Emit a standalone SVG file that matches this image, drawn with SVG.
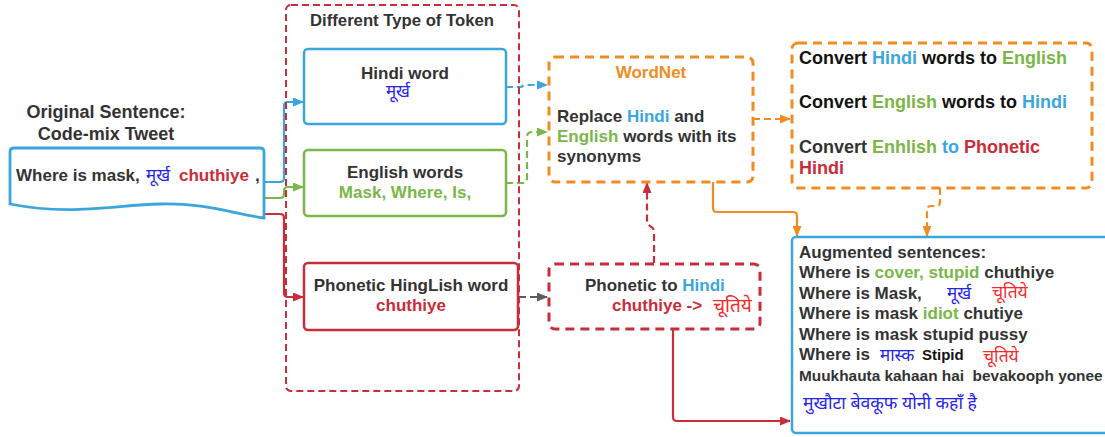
<svg xmlns="http://www.w3.org/2000/svg" width="1105" height="437" viewBox="0 0 1105 437">
<style>
text{font-family:"Liberation Sans",Arial,sans-serif;font-weight:bold;fill:#333333}
.hi{font-family:"Noto Sans Devanagari","Lohit Devanagari","Noto Sans","Liberation Sans",sans-serif;font-weight:normal}
.b{fill:#3aa6dd}.g{fill:#7ab648}.r{fill:#c92d39}.o{fill:#ef8d22}.k{fill:#111111}
.hb{fill:#2323f0}.hr{fill:#f52a2a}
.box{fill:#ffffff;stroke-width:2.5}
.c{fill:none;stroke-width:2.2;stroke-linejoin:round}
</style>
<defs>
<marker id="ab" markerUnits="userSpaceOnUse" markerWidth="11" markerHeight="9" refX="10" refY="4.5" orient="auto"><path d="M0,0 L11,4.5 L0,9 z" fill="#3aa6dd"/></marker>
<marker id="ag" markerUnits="userSpaceOnUse" markerWidth="11" markerHeight="9" refX="10" refY="4.5" orient="auto"><path d="M0,0 L11,4.5 L0,9 z" fill="#7ab648"/></marker>
<marker id="ar" markerUnits="userSpaceOnUse" markerWidth="11" markerHeight="9" refX="10" refY="4.5" orient="auto"><path d="M0,0 L11,4.5 L0,9 z" fill="#c92d39"/></marker>
<marker id="ao" markerUnits="userSpaceOnUse" markerWidth="11" markerHeight="9" refX="10" refY="4.5" orient="auto"><path d="M0,0 L11,4.5 L0,9 z" fill="#ef8d22"/></marker>
<marker id="ak" markerUnits="userSpaceOnUse" markerWidth="11" markerHeight="9" refX="10" refY="4.5" orient="auto"><path d="M0,0 L11,4.5 L0,9 z" fill="#5e5e5e"/></marker>
</defs>
<rect width="1105" height="437" fill="#ffffff"/>

<g id="connectors">
<path class="c" stroke="#3aa6dd" d="M264,182 H280 Q284,182 284,178 V106 Q284,102 288,102 H303" marker-end="url(#ab)"/>
<path class="c" stroke="#7ab648" d="M264,198 H280 Q284,198 284,194 V191 Q284,187 288,187 H303" marker-end="url(#ag)"/>
<path class="c" stroke="#c92d39" d="M264,214 H280 Q284,214 284,218 V293 Q284,297 288,297 H303" marker-end="url(#ar)"/>
<path class="c" stroke="#3aa6dd" stroke-dasharray="7,4" d="M506,87 H520 Q522,87 524,85 H547" marker-end="url(#ab)"/>
<path class="c" stroke="#7ab648" stroke-dasharray="7,4" d="M506,183 H522 Q527,183 527,178 V137 Q527,132 532,132 H547" marker-end="url(#ag)"/>
<path class="c" stroke="#5e5e5e" stroke-dasharray="7,4" d="M519,297 H547" marker-end="url(#ak)"/>
<path class="c" stroke="#ef8d22" stroke-dasharray="7,4" d="M753,119 H790" marker-end="url(#ao)"/>
<path class="c" stroke="#ef8d22" d="M713,182 V208 Q713,212 717,212 H793 Q797,212 797,216 V236" marker-end="url(#ao)"/>
<path class="c" stroke="#ef8d22" stroke-dasharray="7,4" d="M940,188 V202 Q940,206 936,206 H931 Q927,206 927,210 V236" marker-end="url(#ao)"/>
<path class="c" stroke="#c92d39" stroke-dasharray="7,4" d="M654,263 V232 Q654,228 650,226 Q647,224 647,220 V183" marker-end="url(#ar)"/>
<path class="c" stroke="#c92d39" d="M673,329 V417 Q673,421 677,421 H790" marker-end="url(#ar)"/>
</g>

<g id="original">
<text x="106" y="118" font-size="18" text-anchor="middle">Original Sentence:</text>
<text x="106" y="140" font-size="18" text-anchor="middle">Code-mix Tweet</text>
<path d="M14,148 H260 Q264,148 264,152 V218 C230,213 205,203 160,204 C115,205 70,216 10,204 V152 Q10,148 14,148 Z" fill="#ffffff" stroke="#3aa6dd" stroke-width="2.8"/>
<text x="16" y="181" font-size="17">Where is mask,</text>
<text class="hi hb" x="146" y="181" font-size="17">मूर्ख</text>
<text class="r" x="179" y="181" font-size="17">chuthiye</text>
<text x="255" y="181" font-size="17">,</text>
</g>

<g id="token-group">
<rect x="286" y="5" width="233" height="386" rx="5" fill="none" stroke="#c92d39" stroke-width="2" stroke-dasharray="7,4"/>
<text x="402" y="26" font-size="16.7" text-anchor="middle">Different Type of Token</text>
</g>

<g id="hindi-word">
<rect class="box" x="304" y="49" width="202" height="75" rx="4" stroke="#3aa6dd"/>
<text x="405" y="79" font-size="17" text-anchor="middle">Hindi word</text>
<text class="hi hb" x="398" y="97" font-size="17" text-anchor="middle">मूर्ख</text>
</g>

<g id="english-words">
<rect class="box" x="304" y="150" width="202" height="66" rx="4" stroke="#7ab648"/>
<text x="405" y="178" font-size="17" text-anchor="middle">English words</text>
<text class="g" x="405" y="198" font-size="17" text-anchor="middle">Mask, Where, Is,</text>
</g>

<g id="phonetic-word">
<rect class="box" x="304" y="263" width="214" height="67" rx="4" stroke="#c92d39" stroke-width="3"/>
<text x="411" y="291" font-size="17" text-anchor="middle">Phonetic HingLish word</text>
<text class="r" x="411" y="311" font-size="17" text-anchor="middle">chuthiye</text>
</g>

<g id="wordnet">
<rect x="549" y="57" width="204" height="125" rx="6" fill="#ffffff" stroke="#ef8d22" stroke-width="3" stroke-dasharray="9,6"/>
<text class="o" x="651" y="78" font-size="17" text-anchor="middle">WordNet</text>
<text x="557" y="122" font-size="17">Replace <tspan class="b">Hindi</tspan> and</text>
<text x="557" y="142" font-size="17"><tspan class="g">English</tspan> words with its</text>
<text x="557" y="162" font-size="17">synonyms</text>
</g>

<g id="convert">
<rect x="792" y="43" width="300" height="145" rx="6" fill="#ffffff" stroke="#ef8d22" stroke-width="3" stroke-dasharray="9,6"/>
<text class="k" x="799" y="64" font-size="18">Convert <tspan class="b">Hindi</tspan> words to <tspan class="g">English</tspan></text>
<text class="k" x="799" y="108" font-size="18">Convert <tspan class="g">English</tspan> words to <tspan class="b">Hindi</tspan></text>
<text x="799" y="153" font-size="18">Convert <tspan class="g">Enhlish</tspan> <tspan class="b">to</tspan> <tspan class="r">Phonetic</tspan></text>
<text class="r" x="799" y="174" font-size="18">Hindi</text>
</g>

<g id="phonetic-to-hindi">
<rect x="549" y="264" width="211" height="65" rx="6" fill="#ffffff" stroke="#c92d39" stroke-width="3" stroke-dasharray="9,6"/>
<text x="585" y="291" font-size="17">Phonetic to <tspan class="b">Hindi</tspan></text>
<text class="r" x="612" y="311" font-size="17">chuthiye -&gt;</text>
<text class="hi hr" x="713" y="312" font-size="19">चूतिये</text>
</g>

<g id="augmented">
<rect x="792" y="237" width="320" height="196" rx="4" fill="#ffffff" stroke="#3aa6dd" stroke-width="2.5"/>
<text x="799" y="258" font-size="17">Augmented sentences:</text>
<text x="799" y="278" font-size="17">Where is <tspan class="g">cover, stupid</tspan> chuthiye</text>
<text x="799" y="299" font-size="17">Where is Mask,</text>
<text class="hi hb" x="947" y="299" font-size="17">मूर्ख</text>
<text class="hi hr" x="992" y="298" font-size="17.5">चूतिये</text>
<text x="799" y="319" font-size="17">Where is mask <tspan class="g">idiot</tspan> chutiye</text>
<text x="799" y="340" font-size="17">Where is mask stupid pussy</text>
<text x="799" y="360" font-size="17">Where is</text>
<text class="hi hb" x="880" y="361" font-size="17">मास्क</text>
<text class="k" x="922" y="360" font-size="15">Stipid</text>
<text class="hi hr" x="983" y="362" font-size="17.5">चूतिये</text>
<text x="799" y="381" font-size="15.4" xml:space="preserve">Muukhauta kahaan hai  bevakooph yonee</text>
<text class="hi hb" x="803" y="409" font-size="17.6">मुखौटा बेवकूफ योनी कहाँ है</text>
</g>
</svg>
